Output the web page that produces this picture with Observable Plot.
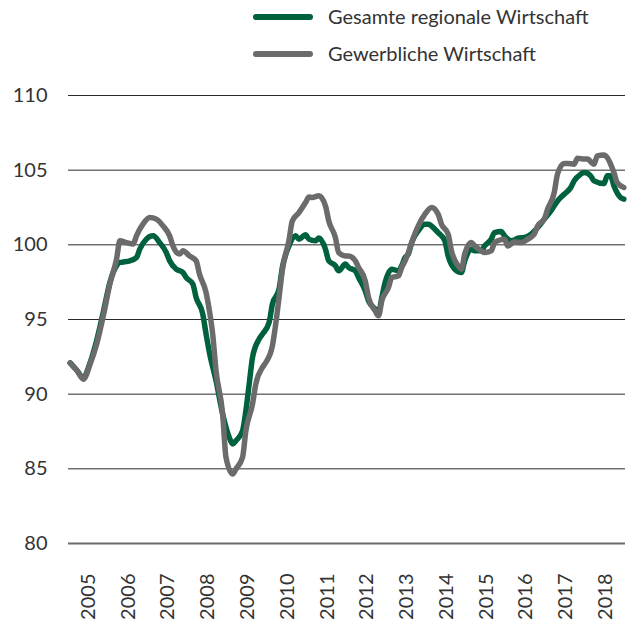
<!DOCTYPE html>
<html>
<head>
<meta charset="utf-8">
<script src="https://cdn.jsdelivr.net/npm/d3@7"></script>
<script src="https://cdn.jsdelivr.net/npm/@observablehq/plot@0.6"></script>
<style>
  body { margin: 0; background: #fff; font-family: Lato, "Noto Sans", sans-serif; }
  #wrap { width: 632px; }
  #legend { position: relative; height: 72px; }
  .sw { position: absolute; left: 253px; width: 60px; height: 6px; border-radius: 3px; }
  .lt { position: absolute; left: 328px; font-size: 20px; color: #333; line-height: 24px; white-space: nowrap; }
</style>
</head>
<body>
<div id="wrap">
  <div id="legend"></div>
  <div id="chart"></div>
</div>
<script>
const seriesNames = ["Gesamte regionale Wirtschaft", "Gewerbliche Wirtschaft"];
const seriesColors = ["#00613d", "#6b6b6b"];
const yTicks = [80, 85, 90, 95, 100, 105, 110];
const yearLabels = [2005, 2006, 2007, 2008, 2009, 2010, 2011, 2012, 2013, 2014, 2015, 2016, 2017, 2018];

const gesamtMonths = ["2005-01","2005-03","2005-05","2005-07","2005-09","2005-11","2006-01","2006-03","2006-04","2006-05","2006-07","2006-09","2006-10","2006-12","2007-02","2007-04","2007-06","2007-07","2007-09","2007-11","2007-12","2008-02","2008-03","2008-05","2008-06","2008-07","2008-09","2008-11","2009-01","2009-02","2009-03","2009-05","2009-06","2009-07","2009-08","2009-10","2009-11","2010-01","2010-02","2010-04","2010-05","2010-07","2010-09","2010-10","2010-12","2011-01","2011-03","2011-04","2011-06","2011-07","2011-09","2011-10","2011-12","2012-01","2012-03","2012-04","2012-06","2012-07","2012-09","2012-10","2012-11","2012-12","2013-02","2013-04","2013-05","2013-06","2013-07","2013-08","2013-10","2013-12","2014-01","2014-03","2014-04","2014-06","2014-07","2014-09","2014-11","2014-12","2015-02","2015-03","2015-05","2015-06","2015-08","2015-09","2015-11","2015-12","2016-02","2016-03","2016-04","2016-06","2016-08","2016-10","2016-12","2017-02","2017-04","2017-06","2017-08","2017-09","2017-11","2017-12","2018-02","2018-03","2018-06","2018-07","2018-08","2018-09","2018-11","2018-12"];
const gesamtValues = [92.1,91.6,91.1,92.1,93.6,95.5,97.5,98.6,98.82,98.85,98.93,99.15,99.71,100.38,100.6,100.15,99.48,98.93,98.37,98.15,97.81,97.37,96.47,95.36,94.02,92.8,90.9,88.67,87.1,86.66,86.88,87.55,88.89,90.68,92.46,93.69,94.02,94.8,96.03,97.03,98.48,99.93,100.6,100.38,100.67,100.38,100.27,100.45,99.71,98.93,98.6,98.26,98.71,98.48,98.26,97.81,96.92,96.25,95.7,95.47,96.47,97.48,98.37,98.26,98.6,99.15,99.38,100.15,100.94,101.38,101.38,101.05,100.82,100.27,99.26,98.37,98.15,98.93,99.71,99.6,99.6,99.93,100.38,100.82,100.89,100.6,100.27,100.31,100.45,100.49,100.72,101.16,101.72,102.27,102.94,103.39,103.84,104.28,104.73,104.84,104.62,104.28,104.1,104.62,104.62,103.95,103.17,103.06];

const gewerbMonths = ["2005-01","2005-03","2005-05","2005-07","2005-09","2005-11","2006-01","2006-03","2006-04","2006-06","2006-08","2006-09","2006-11","2007-01","2007-03","2007-05","2007-07","2007-08","2007-10","2007-11","2008-01","2008-03","2008-04","2008-06","2008-07","2008-08","2008-09","2008-11","2008-12","2009-02","2009-03","2009-05","2009-06","2009-08","2009-09","2009-11","2009-12","2010-02","2010-03","2010-04","2010-05","2010-07","2010-08","2010-10","2010-12","2011-01","2011-02","2011-04","2011-06","2011-07","2011-09","2011-10","2011-12","2012-01","2012-03","2012-04","2012-06","2012-07","2012-09","2012-10","2012-11","2013-01","2013-02","2013-04","2013-05","2013-06","2013-07","2013-08","2013-10","2013-12","2014-02","2014-04","2014-05","2014-07","2014-08","2014-10","2014-11","2014-12","2015-02","2015-03","2015-05","2015-06","2015-08","2015-09","2015-10","2015-12","2016-01","2016-03","2016-05","2016-07","2016-09","2016-10","2016-12","2017-01","2017-03","2017-04","2017-06","2017-07","2017-09","2017-10","2017-12","2018-01","2018-03","2018-04","2018-06","2018-07","2018-09","2018-10","2018-12"];
const gewerbValues = [92.08,91.6,91.0,92.0,93.35,95.25,97.4,99.05,100.27,100.15,100.05,100.6,101.4,101.83,101.72,101.27,100.6,99.93,99.38,99.6,99.26,98.93,98.04,96.8,95.58,94.0,91.57,88.67,85.77,84.65,84.99,85.77,87.55,89.34,90.68,91.79,92.12,93.24,94.69,96.47,98.3,100.3,101.6,102.16,102.83,103.2,103.17,103.28,102.61,101.6,100.49,99.48,99.26,99.26,98.93,98.48,97.59,96.47,95.58,95.25,96.25,97.14,97.81,97.92,98.48,98.93,99.48,100.15,101.27,102.05,102.5,102.05,101.38,100.72,99.6,98.6,98.37,99.38,100.15,99.93,99.6,99.48,99.6,100.15,100.27,100.38,99.93,100.2,100.15,100.38,100.72,101.27,101.72,102.39,103.5,104.74,105.45,105.45,105.4,105.8,105.74,105.74,105.4,105.96,106.02,105.84,104.84,104.17,103.84];

// decimal time: middle of the month
const toT = s => { const [y, m] = s.split("-").map(Number); return y + (m - 0.5) / 12; };
const rows = [
  ...gesamtMonths.map((m, i) => ({t: toT(m), v: gesamtValues[i], s: seriesNames[0]})),
  ...gewerbMonths.map((m, i) => ({t: toT(m), v: gewerbValues[i], s: seriesNames[1]}))
];

// legend
const legend = document.getElementById("legend");
seriesNames.forEach((name, i) => {
  const top = i === 0 ? 17 : 54;
  const sw = document.createElement("div");
  sw.className = "sw"; sw.style.top = (top - 3) + "px"; sw.style.background = seriesColors[i];
  const lt = document.createElement("div");
  lt.className = "lt"; lt.style.top = (top - 13) + "px"; lt.textContent = name;
  legend.append(sw, lt);
});

const chart = Plot.plot({
  width: 632,
  height: 549,
  marginLeft: 68,
  marginRight: 7,
  marginTop: 23,
  marginBottom: 78,
  style: {fontFamily: "Lato, 'Noto Sans', sans-serif", fontSize: "20px", color: "#333", background: "#fff"},
  x: {domain: [2005, 2019], ticks: yearLabels.map(y => y + 0.5), tickFormat: d => String(Math.floor(d)), tickSize: 0, tickPadding: 30, tickRotate: -90, label: null},
  y: {domain: [80, 110], ticks: yTicks, tickSize: 0, tickPadding: 21, label: null},
  marks: [
    Plot.ruleY(yTicks.filter(d => d !== 80), {stroke: "#2b2b2b", strokeWidth: 1}),
    Plot.ruleY([80], {stroke: "#6b6b6b", strokeWidth: 2}),
    Plot.line(rows.filter(d => d.s === seriesNames[0]), {x: "t", y: "v", stroke: seriesColors[0], strokeWidth: 5.5, curve: "monotone-x"}),
    Plot.line(rows.filter(d => d.s === seriesNames[1]), {x: "t", y: "v", stroke: seriesColors[1], strokeWidth: 5.5, curve: "monotone-x"})
  ]
});
document.getElementById("chart").append(chart);
</script>
</body>
</html>
